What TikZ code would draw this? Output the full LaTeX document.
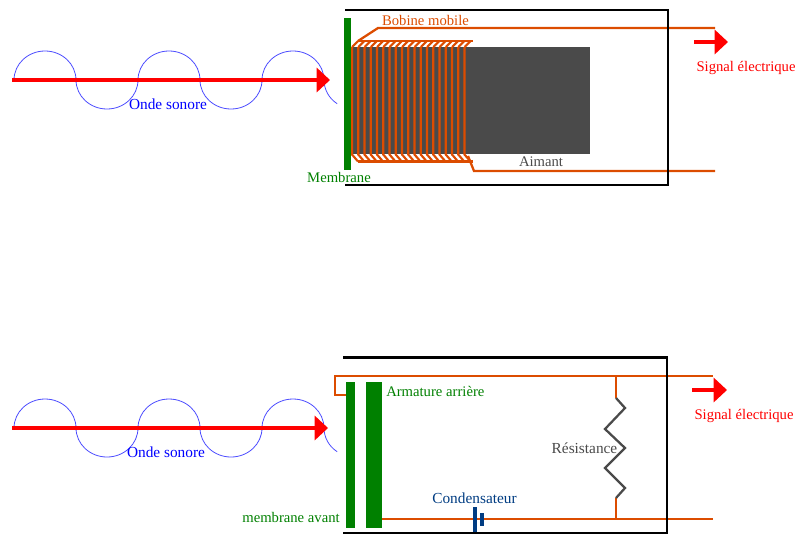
\documentclass[tikz,border=0pt]{standalone}
\usepackage{fontspec}
\setmainfont{Liberation Serif}
\usetikzlibrary{arrows.meta}
\definecolor{fil}{RGB}{220,76,0}
\definecolor{vert}{RGB}{0,128,0}
\definecolor{gris}{RGB}{74,74,74}
\definecolor{marine}{RGB}{0,60,130}
\tikzset{
  lbl/.style={inner sep=0pt,font=\fontsize{11}{12}\selectfont},
  lblw/.style={inner sep=0pt,font=\fontsize{11.5}{12}\selectfont},
  plate/.style={fill=vert,inner sep=0pt},
  lead/.style={draw=fil,line width=1.7pt},
  coil/.style={draw=fil,line width=1.6pt},
  boite/.style={draw=black,line width=1.9pt},
  wave/.style={draw=blue!70!white,line width=0.6pt},
  bigarrow/.style={draw=red,line width=3pt,-{Triangle[length=10pt,width=18pt]}}
}
\begin{document}
\begin{tikzpicture}[x=0.75pt,y=-0.75pt]
\useasboundingbox (0,0) rectangle (798,536);

% micro a bobine
\foreach \ox/\oy in {14/80,14/428}{
  \draw[wave,x radius=31,y radius=29] (\ox,\oy) arc[start angle=180,end angle=360]
    arc[start angle=180,end angle=0]
    arc[start angle=180,end angle=360]
    arc[start angle=180,end angle=0]
    arc[start angle=180,end angle=360]
    arc[start angle=180,end angle=125];
}
\coordinate (o1) at (12,80);
\coordinate (o2) at (330,80);
\draw[bigarrow] (o1) -- (o2);
\node[lblw,blue] (onde1) at (168,104) {Onde sonore};

\node[fill=gris,inner sep=0pt,minimum width=180pt,minimum height=80.25pt] (aimant) at (470,100.5) {};
\foreach \x in {0,...,18}{
  \coordinate (h\x) at ({352+6.25*\x},47);
  \draw[coil] (h\x) -- ++(0,107.5) -- ++(6,7);
  \draw[coil] (h\x) -- ++(6,-6);
}
\coordinate (t1) at (358,41);
\coordinate (t2) at (473,41);
\coordinate (t3) at (378,28);
\coordinate (t4) at (715,28);
\coordinate (u1) at (358,161.5);
\coordinate (u2) at (473,161.5);
\coordinate (u3) at (468,156);
\coordinate (u4) at (474,171);
\coordinate (u5) at (715,171);
\draw[coil] (t1) -- (t2);
\draw[coil] (u1) -- (u2);
\draw[lead] (t1) -- (t3) -- (t4);
\draw[lead] (u3) -- (u4) -- (u5);

\coordinate (k1) at (345,10);
\coordinate (k2) at (668,10);
\coordinate (k3) at (668,185);
\coordinate (k4) at (345,185);
\draw[boite] (k1) -- (k2) -- (k3) -- (k4);
\node[plate,minimum width=5.25pt,minimum height=114pt] (membrane) at (347.5,94) {};

\coordinate (s1) at (694,42);
\coordinate (s2) at (728,42);
\draw[bigarrow] (s1) -- (s2);

\node[lbl,fil] (bobine) at (425.5,20.5) {Bobine mobile};
\node[lbl,vert] (lmembrane) at (339,177) {Membrane};
\node[lbl,gris] (laimant) at (541,162) {Aimant};
\node[lbl,red] (signal1) at (746,67.5) {Signal électrique};

% micro a condensateur
\coordinate (p1) at (328,428);
\coordinate (p0) at (12,428);
\draw[bigarrow] (p0) -- (p1);
\node[lblw,blue] (onde2) at (166,452) {Onde sonore};

\node[plate,minimum width=6.75pt,minimum height=109.5pt] (avant) at (350.5,455) {};
\node[plate,minimum width=12pt,minimum height=109.5pt] (arriere) at (374,455) {};

\coordinate (a1) at (346,395);
\coordinate (a2) at (335,395);
\coordinate (a3) at (335,376);
\coordinate (a4) at (713,376);
\coordinate (a5) at (382,519);
\coordinate (a6) at (713,519);
\coordinate (r0) at (616,376);
\coordinate (r1) at (616,398);
\coordinate (r2) at (625,408);
\coordinate (r3) at (605,429);
\coordinate (r4) at (625,448);
\coordinate (r5) at (605,468);
\coordinate (r6) at (625,488);
\coordinate (r7) at (616,498);
\coordinate (r8) at (616,519);
\draw[lead] (a1) -- (a2) -- (a3) -- (a4);
\draw[lead] (a5) -- (a6);
\draw[lead] (r0) -- (r1);
\draw[lead] (r7) -- (r8);
\draw[draw=gris,line width=1.7pt] (r1) -- (r2) -- (r3) -- (r4) -- (r5) -- (r6) -- (r7);

\coordinate (c1) at (475,507);
\coordinate (c2) at (475,532);
\coordinate (c3) at (482,513);
\coordinate (c4) at (482,526);
\draw[marine,line width=3pt] (c1) -- (c2);
\draw[marine,line width=3pt] (c3) -- (c4);

\coordinate (q1) at (343,357.5);
\coordinate (q2) at (667,357.5);
\coordinate (q3) at (667,533);
\coordinate (q4) at (343,533);
\draw[boite] (q1) -- (q2) -- (q3) -- (q4);

\coordinate (s3) at (692,390);
\coordinate (s4) at (727,390);
\draw[bigarrow] (s3) -- (s4);

\node[lbl,vert,anchor=west] (larmature) at (386,391.5) {Armature arrière};
\node[lbl,vert] (lavant) at (291,517) {membrane avant};
\node[lblw,marine] (lcondo) at (474.5,498.5) {Condensateur};
\node[lblw,gris] (lres) at (584.5,448) {Résistance};
\node[lbl,red] (signal2) at (744,415.5) {Signal électrique};
\end{tikzpicture}
\end{document}
